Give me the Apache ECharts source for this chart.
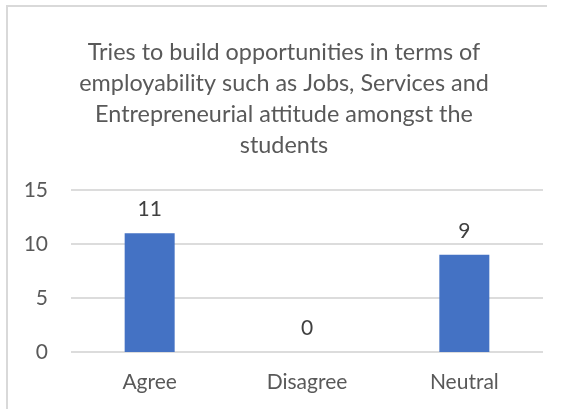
<!DOCTYPE html>
<html>
<head>
<meta charset="utf-8">
<script src="https://cdn.jsdelivr.net/npm/echarts@6/dist/echarts.min.js"></script>
<style>
html,body{margin:0;padding:0;background:#fff;}
#c{width:568px;height:409px;}
</style>
</head>
<body>
<div id="c"></div>
<script>
var titleText = "Tries to build opportunities in terms of\nemployability such as Jobs, Services and\nEntrepreneurial attitude amongst the\nstudents";
var categories = ["Agree", "Disagree", "Neutral"];
var values = [11, 0, 9];
var yTicks = { min: 0, max: 15, interval: 5 };

var chart = echarts.init(document.getElementById('c'), null, { renderer: 'canvas' });
var font = 'Lato';
chart.setOption({
  animation: false,
  backgroundColor: '#ffffff',
  title: {
    text: titleText,
    left: 'center',
    top: 32,
    textStyle: { fontFamily: font, fontSize: 23.4, fontWeight: 'normal', color: '#595959', lineHeight: 31 }
  },
  grid: { left: 71, right: 25, top: 190, bottom: 57 },
  xAxis: {
    type: 'category',
    data: categories,
    axisLine: { show: false },
    axisTick: { show: false },
    axisLabel: { fontFamily: font, fontSize: 21, color: '#595959', margin: 20 }
  },
  yAxis: {
    type: 'value',
    min: yTicks.min, max: yTicks.max, interval: yTicks.interval,
    axisLine: { show: false },
    axisTick: { show: false },
    axisLabel: { fontFamily: font, fontSize: 21, color: '#595959', margin: 23 },
    splitLine: { lineStyle: { color: '#dcdcdc', width: 2 } }
  },
  series: [{
    type: 'bar',
    data: values,
    barWidth: 50,
    itemStyle: { color: '#4472c4' },
    label: { show: true, position: 'top', distance: 13, fontFamily: font, fontSize: 21, color: '#404040' }
  }],
  graphic: [
    { type: 'line', shape: { x1: 6, y1: 6, x2: 547, y2: 6 }, style: { stroke: '#d9d9d9', lineWidth: 2 }, silent: true },
    { type: 'line', shape: { x1: 7, y1: 6, x2: 7, y2: 409 }, style: { stroke: '#d9d9d9', lineWidth: 2 }, silent: true }
  ]
});
</script>
</body>
</html>
